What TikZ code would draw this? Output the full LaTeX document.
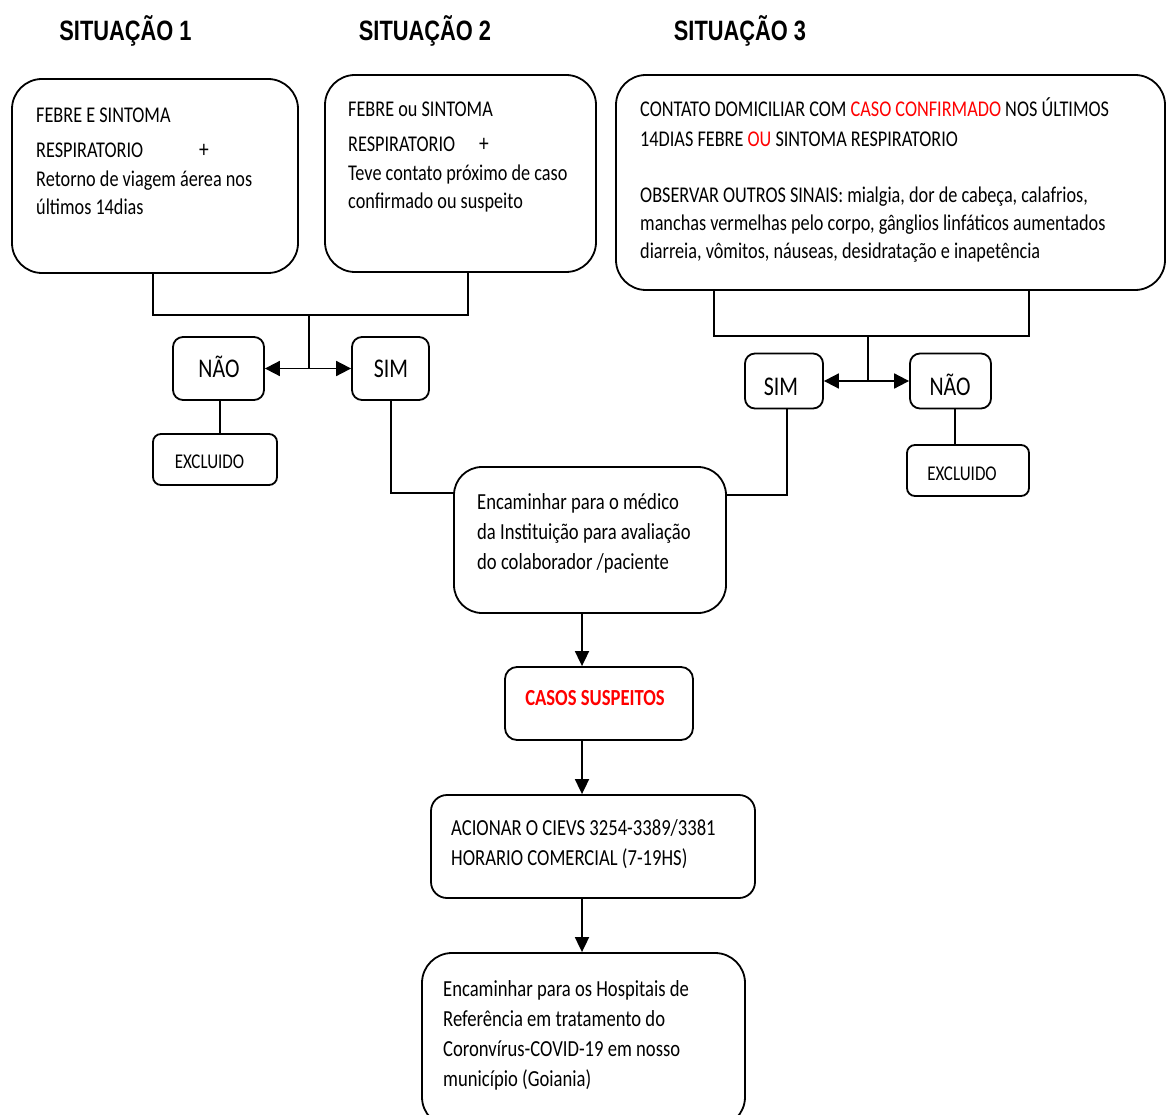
\documentclass[tikz,border=0pt]{standalone}
\usepackage{fontspec}
\setmainfont{Carlito}[FakeStretch=0.81]
\newfontfamily\titlefont{Liberation Sans}[FakeStretch=0.78]
\usetikzlibrary{arrows.meta}
\definecolor{alert}{RGB}{255,0,0}
\tikzset{
  box/.style={draw, line width=1.8pt, rounded corners=#1, inner sep=0pt},
  txt/.style={anchor=base west, inner sep=0pt},
  lbl/.style={anchor=base, inner sep=0pt},
  title/.style={anchor=base, inner sep=0pt, font=\titlefont\bfseries\fontsize{28}{32}\selectfont},
  wire/.style={line width=1.8pt},
  arr/.style={wire, -{Triangle[length=15pt,width=14pt]}},
  dbl/.style={wire, {Triangle[length=15pt,width=15pt]}-{Triangle[length=15pt,width=15pt]}},
}
\newcommand{\boxtext}[1]{\parbox[t]{530pt}{\fontsize{22.5}{28}\selectfont #1}}
\newcommand{\flowtext}[1]{\parbox[t]{330pt}{\fontsize{23}{30}\selectfont #1}}
\begin{document}
\begin{tikzpicture}[x=1pt,y=-1pt]
\useasboundingbox (0,0) rectangle (1167,1115);
\fill[white] (0,0) rectangle (1167,1115);

% titles
\node[title] (t1) at (125.5,41) {SITUAÇÃO 1};
\node[title] (t2) at (425,41) {SITUAÇÃO 2};
\node[title] (t3) at (740,41) {SITUAÇÃO 3};

% situation boxes
\node[box=30pt, minimum width=286pt, minimum height=194pt] (s1) at (155,176) {};
\node[box=30pt, minimum width=271pt, minimum height=197pt] (s2) at (460.5,173.5) {};
\node[box=30pt, minimum width=549pt, minimum height=215pt] (s3) at (890.5,182.5) {};

\node[txt] (s1t) at (36,123) {\boxtext{FEBRE E SINTOMA\\[7pt]
RESPIRATORIO\\[1pt]
Retorno de viagem áerea nos\\
últimos 14dias}};

\node[txt] (s2t) at (348,117) {\boxtext{FEBRE ou SINTOMA\\[7pt]
RESPIRATORIO\\[1pt]
Teve contato próximo de caso\\
confirmado ou suspeito}};

\node[txt] (s3t) at (640,117) {\boxtext{CONTATO DOMICILIAR COM \textcolor{alert}{CASO CONFIRMADO} NOS ÚLTIMOS\\[2pt]
14DIAS FEBRE \textcolor{alert}{OU} SINTOMA RESPIRATORIO\\[28pt]
OBSERVAR OUTROS SINAIS: mialgia, dor de cabeça, calafrios,\\
manchas vermelhas pelo corpo, gânglios linfáticos aumentados\\
diarreia, vômitos, náuseas, desidratação e inapetência}};

% plus signs
\node[lbl, font=\fontsize{24}{28}\selectfont] (p1) at (204,158) {+};
\node[lbl, font=\fontsize{24}{28}\selectfont] (p2) at (484,152) {+};

% decision boxes
\node[box=10pt, minimum width=91pt, minimum height=63pt] (nao1) at (218.5,368.5) {};
\node[box=10pt, minimum width=77pt, minimum height=63pt] (sim1) at (390.5,368.5) {};
\node[box=8pt, minimum width=124pt, minimum height=51pt] (exc1) at (215,459.5) {};
\node[lbl, font=\fontsize{27}{30}\selectfont] (nao1t) at (219,377) {NÃO};
\node[lbl, font=\fontsize{27}{30}\selectfont] (sim1t) at (391,377) {SIM};
\node[lbl, font=\fontsize{21}{24}\selectfont] (exc1t) at (209.5,468) {EXCLUIDO};

\node[box=10pt, minimum width=78pt, minimum height=55pt] (sim3) at (784,381) {};
\node[box=10pt, minimum width=81pt, minimum height=55pt] (nao3) at (950.5,381) {};
\node[box=8pt, minimum width=122pt, minimum height=51pt] (exc3) at (968,470.5) {};
\node[lbl, font=\fontsize{27}{30}\selectfont] (sim3t) at (781,395) {SIM};
\node[lbl, font=\fontsize{27}{30}\selectfont] (nao3t) at (950,395) {NÃO};
\node[lbl, font=\fontsize{21}{24}\selectfont] (exc3t) at (962,480) {EXCLUIDO};

% flow boxes
\node[box=28pt, minimum width=272pt, minimum height=146pt] (enc) at (590,540) {};
\node[txt] (enct) at (477,509) {\flowtext{Encaminhar para o médico\\
da Instituição para avaliação\\
do colaborador /paciente}};

\node[box=12pt, minimum width=188pt, minimum height=73pt] (cas) at (599,703.5) {};
\node[lbl, font=\bfseries\fontsize{23}{26}\selectfont, text=alert] (cast) at (595,705) {CASOS SUSPEITOS};

\node[box=16pt, minimum width=324pt, minimum height=103pt] (aci) at (593,846.5) {};
\node[txt] (acit) at (451,835) {\flowtext{ACIONAR O CIEVS 3254-3389/3381\\
HORARIO COMERCIAL (7-19HS)}};

\node[box=30pt, minimum width=323pt, minimum height=174pt] (hos) at (583.5,1040) {};
\node[txt] (host) at (443,996) {\flowtext{Encaminhar para os Hospitais de\\
Referência em tratamento do\\
Coronvírus-COVID-19 em nosso\\
município (Goiania)}};

% connectors, situations 1 and 2
\coordinate (b1) at (153,315);
\coordinate (b2) at (468,315);
\coordinate (j1) at (309,315);
\draw[wire] (b1 |- s1.south) -- (b1) -- (b2) -- (b2 |- s2.south);
\draw[wire] (j1) -- (j1 |- nao1.east);
\draw[dbl] (nao1.east) -- (sim1.west);
\draw[wire] ([xshift=1.5pt]nao1.south) -- ([xshift=1.5pt]nao1.south |- exc1.north);
\coordinate (k1) at (391,493);
\draw[wire] (sim1.south -| k1) -- (k1) -- (k1 -| enc.west);

% connectors, situation 3
\coordinate (b3) at (714,336);
\coordinate (b4) at (1029,336);
\coordinate (j3) at (868,336);
\draw[wire] (b3 |- s3.south) -- (b3) -- (b4) -- (b4 |- s3.south);
\draw[wire] (j3) -- (j3 |- sim3.east);
\draw[dbl] (sim3.east) -- (nao3.west);
\coordinate (k2) at (955,0);
\draw[wire] (nao3.south -| k2) -- (exc3.north -| k2);
\coordinate (k3) at (787,495);
\draw[wire] (sim3.south -| k3) -- (k3) -- (k3 -| enc.east);

% main flow
\coordinate (ax) at (582,0);
\draw[arr] (enc.south -| ax) -- (cas.north -| ax);
\draw[arr] (cas.south -| ax) -- (aci.north -| ax);
\draw[arr] (aci.south -| ax) -- (hos.north -| ax);
\end{tikzpicture}
\end{document}
